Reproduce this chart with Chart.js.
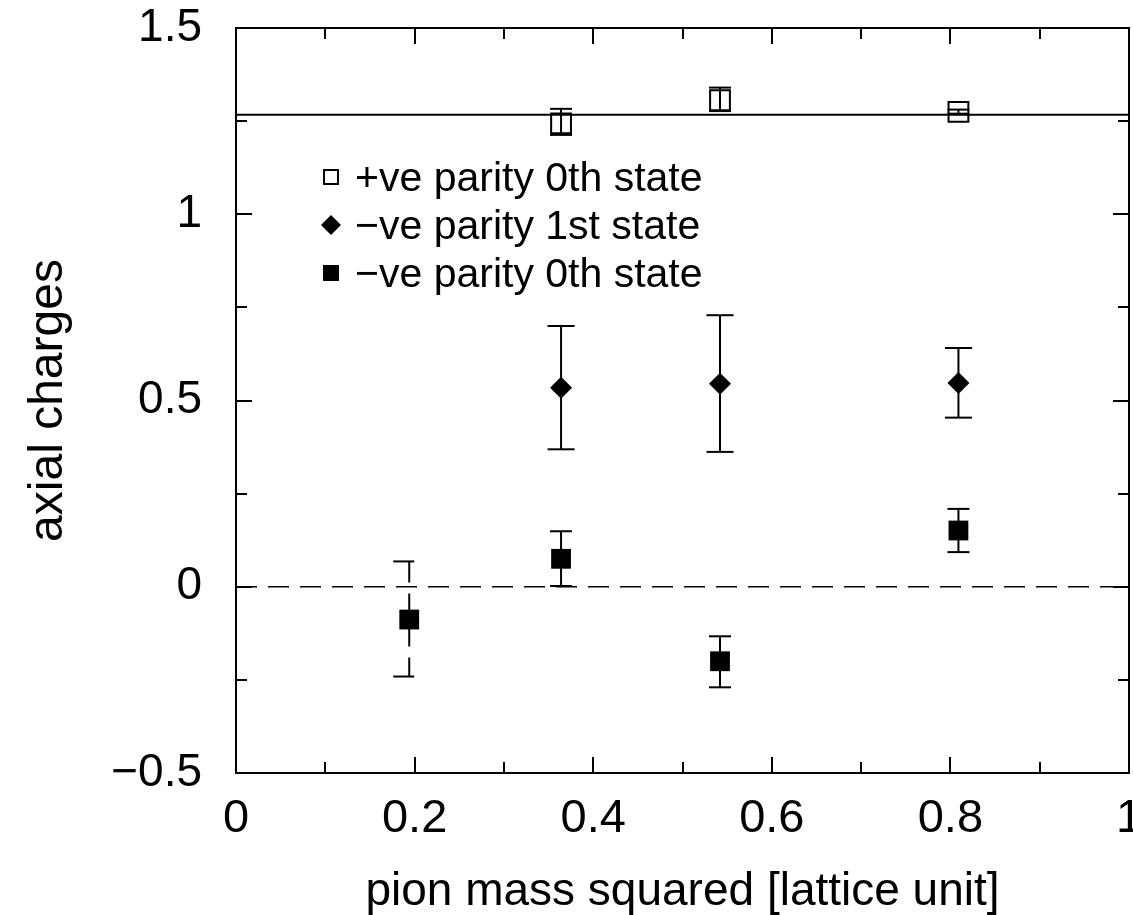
<!DOCTYPE html>
<html>
<head>
<meta charset="utf-8">
<script src="https://cdn.jsdelivr.net/npm/chart.js@4.4.1/dist/chart.umd.min.js"></script>
<style>
  html, body { margin: 0; padding: 0; background: #ffffff; }
  #c { display: block; }
</style>
</head>
<body>
<canvas id="c" width="1133" height="915"></canvas>
<script>
// ---------------- data ----------------
const seriesLabels = ['+ve parity 0th state', '\u2212ve parity 1st state', '\u2212ve parity 0th state'];

const posParity0X    = [0.364, 0.542, 0.809];
const posParity0Y    = [1.244, 1.306, 1.275];
const posParity0Low  = [1.213, 1.277, 1.270];
const posParity0High = [1.283, 1.340, 1.281];

const negParity1X    = [0.364, 0.542, 0.809];
const negParity1Y    = [0.534, 0.545, 0.547];
const negParity1Low  = [0.369, 0.362, 0.454];
const negParity1High = [0.700, 0.729, 0.641];

const negParity0X    = [0.194, 0.364, 0.542, 0.809];
const negParity0Y    = [-0.088, 0.075, -0.200, 0.151];
const negParity0Low  = [-0.241, 0.002, -0.270, 0.093];
const negParity0High = [0.068, 0.149, -0.133, 0.209];
const negParity0Dashed = [true, false, false, false];

const refLineY  = [1.267];   // solid horizontal line
const zeroLineY = [0];       // dashed horizontal line

const xTickValues = [0, 0.2, 0.4, 0.6, 0.8, 1];
const xTickLabels = ['0', '0.2', '0.4', '0.6', '0.8', '1'];
const xMinorTicks = [0.1, 0.3, 0.5, 0.7, 0.9];
const yTickValues = [-0.5, 0, 0.5, 1, 1.5];
const yTickLabels = ['\u22120.5', '0', '0.5', '1', '1.5'];
const yMinorTicks = [-0.25, 0.25, 0.75, 1.25];

const xTitle = 'pion mass squared [lattice unit]';
const yTitle = 'axial charges';

// ---------------- helpers ----------------
const FONT = '"Liberation Sans", Arial, Helvetica, sans-serif';
const toPts = (xs, ys) => xs.map((x, i) => ({ x: x, y: ys[i] }));

const errorBarPlugin = {
  id: 'errorBars',
  beforeDatasetsDraw(chart) {
    const ctx = chart.ctx;
    const xs = chart.scales.x, ys = chart.scales.y;
    chart.data.datasets.forEach((ds) => {
      if (!ds.errLow) return;
      ds.data.forEach((p, i) => {
        const px = xs.getPixelForValue(p.x);
        const pLo = ys.getPixelForValue(ds.errLow[i]);
        const pHi = ys.getPixelForValue(ds.errHigh[i]);
        const dashed = ds.errDashed && ds.errDashed[i];
        const half = dashed ? 16 : ds.capHalf;
        ctx.save();
        ctx.strokeStyle = '#000';
        ctx.lineWidth = 2;
        ctx.setLineDash(dashed ? [21, 11] : []);
        ctx.beginPath();
        ctx.moveTo(px - half, pHi); ctx.lineTo(px + half, pHi);
        ctx.stroke();
        ctx.beginPath();
        ctx.moveTo(px, pHi); ctx.lineTo(px, pLo);
        ctx.stroke();
        ctx.beginPath();
        ctx.moveTo(px - half, pLo); ctx.lineTo(px + half, pLo);
        ctx.stroke();
        ctx.restore();
      });
    });
  }
};

const framePlugin = {
  id: 'frame',
  afterDatasetsDraw(chart) {
    const ctx = chart.ctx;
    const a = chart.chartArea;
    const xs = chart.scales.x, ys = chart.scales.y;
    ctx.save();
    ctx.strokeStyle = '#000';
    ctx.lineWidth = 2;
    ctx.strokeRect(a.left, a.top, a.right - a.left, a.bottom - a.top);
    ctx.beginPath();
    const xt = (v, len) => {
      const px = Math.round(xs.getPixelForValue(v));
      ctx.moveTo(px, a.bottom); ctx.lineTo(px, a.bottom - len);
      ctx.moveTo(px, a.top); ctx.lineTo(px, a.top + len);
    };
    const yt = (v, len) => {
      const py = Math.round(ys.getPixelForValue(v));
      ctx.moveTo(a.left, py); ctx.lineTo(a.left + len, py);
      ctx.moveTo(a.right, py); ctx.lineTo(a.right - len, py);
    };
    xTickValues.forEach(v => xt(v, 16));
    xMinorTicks.forEach(v => xt(v, 11));
    yTickValues.forEach(v => yt(v, 16));
    yMinorTicks.forEach(v => yt(v, 11));
    ctx.stroke();

    // axis titles
    ctx.fillStyle = '#000';
    ctx.textAlign = 'center';
    ctx.textBaseline = 'alphabetic';
    ctx.font = '46px ' + FONT;
    ctx.fillText(xTitle, (a.left + a.right) / 2, 905);
    ctx.save();
    ctx.font = '48px ' + FONT;
    ctx.translate(62, (a.top + a.bottom) / 2);
    ctx.rotate(-Math.PI / 2);
    ctx.fillText(yTitle, 0, 0);
    ctx.restore();

    // key
    ctx.font = '41px ' + FONT;
    ctx.textAlign = 'left';
    ctx.textBaseline = 'alphabetic';
    const rowsY = [177, 225, 273];
    const mx = 331;
    chart.data.datasets.filter(d => d.inKey).forEach((ds, i) => {
      const cy = rowsY[i];
      ctx.lineWidth = 2;
      ctx.strokeStyle = '#000';
      ctx.fillStyle = '#000';
      if (ds.pointStyle === 'rectRot') {
        ctx.beginPath();
        ctx.moveTo(mx - 10, cy); ctx.lineTo(mx, cy - 10);
        ctx.lineTo(mx + 10, cy); ctx.lineTo(mx, cy + 10);
        ctx.closePath(); ctx.fill();
      } else if (ds.keyOpen) {
        ctx.strokeRect(mx - 7, cy - 7, 14, 14);
      } else {
        ctx.fillRect(mx - 8, cy - 8, 16, 16);
      }
      ctx.fillStyle = '#000';
      ctx.fillText(ds.label, 355, cy + 14);
    });
    ctx.restore();
  }
};

const fixX = (scale) => {
  scale.height = 915 - 773;
  scale.paddingLeft = 0; scale.paddingRight = 0;
  scale.paddingTop = 0; scale.paddingBottom = 0;
};
const fixY = (scale) => {
  scale.width = 236;
  scale.paddingLeft = 0; scale.paddingRight = 0;
  scale.paddingTop = 0; scale.paddingBottom = 0;
};

new Chart(document.getElementById('c'), {
  type: 'scatter',
  data: {
    datasets: [
      {
        label: 'reference',
        data: [{ x: 0, y: refLineY[0] }, { x: 1, y: refLineY[0] }],
        showLine: true, borderColor: '#000', borderWidth: 2,
        pointRadius: 0, pointHoverRadius: 0
      },
      {
        label: 'zero',
        data: [{ x: 0, y: zeroLineY[0] }, { x: 1, y: zeroLineY[0] }],
        showLine: true, borderColor: '#000', borderWidth: 1.5, borderDash: [21, 11],
        pointRadius: 0, pointHoverRadius: 0
      },
      {
        label: seriesLabels[0], inKey: true, keyOpen: true,
        data: toPts(posParity0X, posParity0Y),
        errLow: posParity0Low, errHigh: posParity0High, capHalf: 11,
        pointStyle: 'rect', pointRadius: 14, pointBorderWidth: 2,
        pointBorderColor: '#000', pointBackgroundColor: 'rgba(0,0,0,0)'
      },
      {
        label: seriesLabels[1], inKey: true,
        data: toPts(negParity1X, negParity1Y),
        errLow: negParity1Low, errHigh: negParity1High, capHalf: 13.5,
        pointStyle: 'rectRot', pointRadius: 11, pointBorderWidth: 0,
        pointBorderColor: '#000', pointBackgroundColor: '#000'
      },
      {
        label: seriesLabels[2], inKey: true,
        data: toPts(negParity0X, negParity0Y),
        errLow: negParity0Low, errHigh: negParity0High, errDashed: negParity0Dashed, capHalf: 11,
        pointStyle: 'rect', pointRadius: 14, pointBorderWidth: 0,
        pointBorderColor: '#000', pointBackgroundColor: '#000'
      }
    ]
  },
  options: {
    responsive: false,
    animation: false,
    devicePixelRatio: 1,
    layout: { autoPadding: false, padding: { top: 28, right: 4, bottom: 0, left: 0 } },
    plugins: { legend: { display: false }, tooltip: { enabled: false }, title: { display: false } },
    events: [],
    scales: {
      x: {
        type: 'linear', position: 'bottom', min: 0, max: 1,
        afterBuildTicks: (s) => { s.ticks = xTickValues.map(v => ({ value: v })); },
        afterFit: fixX,
        grid: { display: false, drawTicks: false },
        border: { display: false },
        ticks: {
          color: '#000', font: { family: FONT, size: 47 }, padding: 18,
          maxRotation: 0, autoSkip: false,
          callback: (v, i) => xTickLabels[i]
        }
      },
      y: {
        type: 'linear', position: 'left', min: -0.5, max: 1.5,
        afterBuildTicks: (s) => { s.ticks = yTickValues.map(v => ({ value: v })); },
        afterFit: fixY,
        grid: { display: false, drawTicks: false },
        border: { display: false },
        ticks: {
          color: '#000', font: { family: FONT, size: 46 }, padding: 34,
          autoSkip: false,
          callback: (v, i) => yTickLabels[i]
        }
      }
    }
  },
  plugins: [errorBarPlugin, framePlugin]
});
</script>
</body>
</html>
